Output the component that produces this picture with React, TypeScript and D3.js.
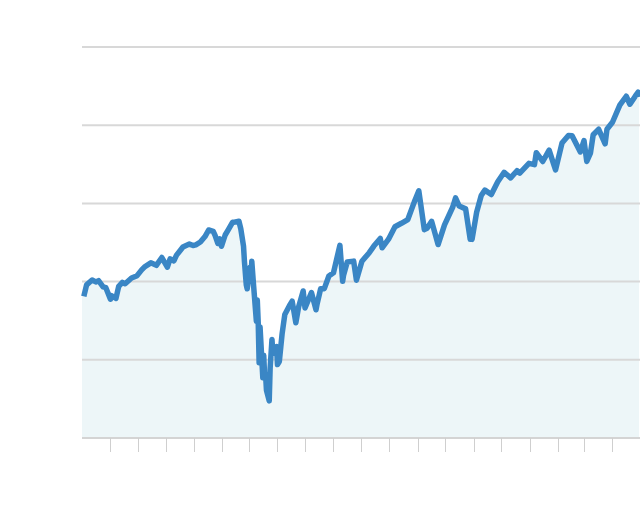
import React from "react";
import * as d3 from "d3";

const dates: string[] = [
  "2019-09-03","2019-09-06","2019-09-12","2019-09-16","2019-09-19","2019-09-24","2019-09-27","2019-10-02","2019-10-03","2019-10-08","2019-10-11","2019-10-15","2019-10-18","2019-10-25","2019-10-31",
  "2019-11-05","2019-11-08","2019-11-15","2019-11-21","2019-11-27","2019-12-03","2019-12-06","2019-12-10","2019-12-13","2019-12-20","2019-12-27","2019-12-31",
  "2020-01-03","2020-01-08","2020-01-13","2020-01-17","2020-01-22","2020-01-24","2020-01-27","2020-01-29","2020-01-31","2020-02-04","2020-02-07","2020-02-12","2020-02-14","2020-02-19","2020-02-21",
  "2020-02-24","2020-02-25","2020-02-27","2020-02-28","2020-03-02","2020-03-03","2020-03-04","2020-03-06","2020-03-09","2020-03-10","2020-03-11","2020-03-12","2020-03-13","2020-03-16","2020-03-17","2020-03-18","2020-03-19","2020-03-20","2020-03-23","2020-03-24","2020-03-26","2020-03-27","2020-03-31",
  "2020-04-01","2020-04-03","2020-04-06","2020-04-09","2020-04-14","2020-04-17","2020-04-21","2020-04-24","2020-04-29","2020-05-01","2020-05-08","2020-05-13","2020-05-14","2020-05-18","2020-05-22","2020-05-27","2020-06-01","2020-06-08","2020-06-11","2020-06-12","2020-06-16","2020-06-23","2020-06-26",
  "2020-07-02","2020-07-10","2020-07-15","2020-07-22","2020-07-24","2020-07-31","2020-08-07","2020-08-14","2020-08-21","2020-08-28","2020-09-02","2020-09-08","2020-09-11","2020-09-16","2020-09-23","2020-09-30",
  "2020-10-09","2020-10-12","2020-10-16","2020-10-23","2020-10-28","2020-10-30","2020-11-04","2020-11-09","2020-11-13","2020-11-20","2020-11-27","2020-12-04","2020-12-11","2020-12-18","2020-12-21","2020-12-31",
  "2021-01-06","2021-01-08","2021-01-15","2021-01-22","2021-01-27","2021-01-29","2021-02-05","2021-02-12","2021-02-16","2021-02-25","2021-03-01","2021-03-04","2021-03-08","2021-03-11","2021-03-17","2021-03-24","2021-03-26",
  "2021-04-01","2021-04-09","2021-04-16","2021-04-20","2021-04-26","2021-04-29","2021-04-30"
];

const values: number[] = [
  2906,2979,3010,2998,3006,2966,2961,2887,2910,2893,2970,2995,2986,3023,3038,
  3075,3093,3120,3104,3154,3093,3146,3132,3169,3221,3240,3231,
  3235,3253,3288,3330,3321,3295,3244,3273,3226,3298,3328,3379,3380,3386,3338,
  3226,3128,2979,2954,3090,3003,3130,2972,2746,2882,2741,2481,2711,2386,2529,2398,2409,2305,2237,2447,2630,2541,2585,
  2470,2489,2664,2790,2846,2875,2737,2837,2940,2831,2930,2820,2852,2954,2955,3036,3056,3232,3002,3041,3125,3131,3009,
  3130,3185,3227,3276,3216,3271,3351,3373,3397,3508,3580,3332,3341,3385,3237,3363,
  3477,3535,3483,3465,3271,3270,3443,3550,3585,3557,3638,3699,3663,3709,3694,3756,
  3748,3824,3768,3841,3750,3714,3886,3934,3932,3829,3901,3768,3821,3939,3974,3881,3974,
  4019,4128,4185,4134,4187,4211,4181
];

const gridValues: number[] = [2000, 2500, 3000, 3500, 4000, 4500];
const domainStart = "2019-09-01";
const domainEnd = "2021-05-01";

export default function App() {
  const parse = d3.utcParse("%Y-%m-%d");
  const data = dates.map((d, i) => ({ date: parse(d) as Date, value: values[i] }));
  const left = 82, right = 640, top = 47, bottom = 438;
  const x = d3.scaleUtc().domain([parse(domainStart) as Date, parse(domainEnd) as Date]).range([left, right]);
  const y = d3.scaleLinear().domain([2000, 4500]).range([bottom, top]);
  const line = d3.line<any>().x(d => x(d.date)).y(d => y(d.value));
  const area = d3.area<any>().x(d => x(d.date)).y0(bottom).y1(d => y(d.value));
  const ticks = d3.utcMonth.range(d3.utcMonth.offset(parse(domainStart) as Date, 1), parse(domainEnd) as Date);
  const areaPath = area(data) as string;
  return (
    <div style={{ position: "fixed", left: 0, top: 0 }}>
      <svg width={640} height={528} style={{ display: "block", background: "#fff" }}>
        <path d={`M${left},${bottom}L${left},${y(values[0])}` + areaPath.replace(/^M/, "L")} fill="#edf6f8" />
        {gridValues.slice(1).map(v => (
          <line key={v} x1={left} x2={right} y1={y(v)} y2={y(v)} stroke="#d8d8d8" strokeWidth={2} />
        ))}
        <line x1={left} x2={right} y1={bottom} y2={bottom} stroke="#d4d4d4" strokeWidth={2} />
        {ticks.map((t, i) => (
          <line key={i} x1={Math.round(x(t)) + 0.5} x2={Math.round(x(t)) + 0.5} y1={bottom} y2={bottom + 14} stroke="#cfcfcf" strokeWidth={1} />
        ))}
        <path d={line(data) as string} fill="none" stroke="#3a86c5" strokeWidth={5.5} strokeLinejoin="round" strokeLinecap="butt" />
      </svg>
    </div>
  );
}
